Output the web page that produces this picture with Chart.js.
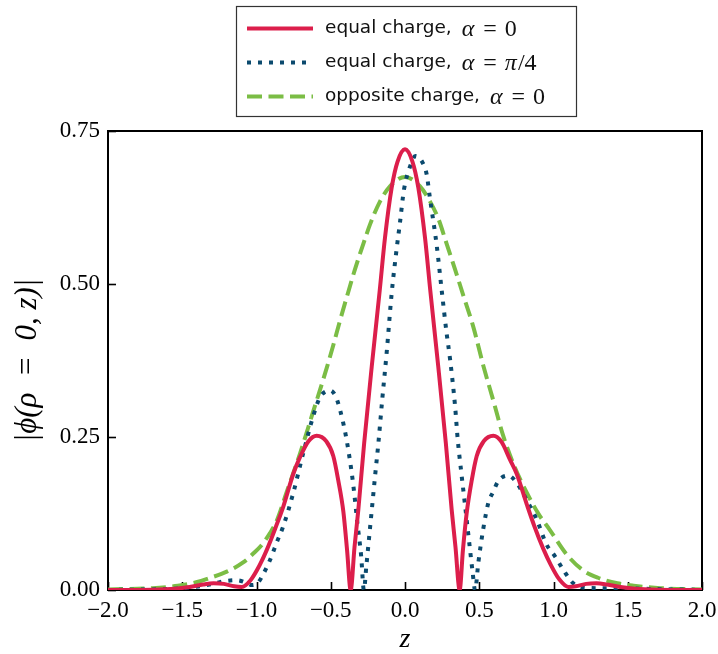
<!DOCTYPE html>
<html>
<head>
<meta charset="utf-8">
<script src="https://cdn.jsdelivr.net/npm/chart.js@4.4.1/dist/chart.umd.min.js"></script>
<style>
  html, body { margin: 0; padding: 0; background: #fff; }
  canvas { display: block; }
</style>
</head>
<body>
<canvas id="graficoPotencial" width="718" height="654"></canvas>
<script>
// valores
const zIgualAlfa0 = [-2, -1.7, -1.55, -1.45, -1.36, -1.29, -1.22, -1.15, -1.1, -1.04, -0.98, -0.93, -0.87, -0.82, -0.752, -0.707, -0.65, -0.595, -0.53, -0.483, -0.45, -0.415, -0.39, -0.366, -0.34, -0.314, -0.275, -0.224, -0.17, -0.135, -0.09, -0.05, 0,
  0.05, 0.09, 0.135, 0.17, 0.224, 0.275, 0.314, 0.34, 0.368, 0.39, 0.415, 0.45, 0.483, 0.53, 0.595, 0.65, 0.707, 0.752, 0.82, 0.87, 0.93, 0.98, 1.04, 1.1, 1.15, 1.22, 1.29, 1.36, 1.45, 1.55, 1.7, 2];
const phiIgualAlfa0 = [0, 0.0005, 0.002, 0.005, 0.009, 0.011, 0.01, 0.006, 0.005, 0.016, 0.04, 0.066, 0.103, 0.136, 0.19, 0.217, 0.243, 0.252, 0.243, 0.219, 0.18, 0.128, 0.065, 0, 0.07, 0.132, 0.24, 0.365, 0.49, 0.575, 0.657, 0.7, 0.72,
  0.7, 0.657, 0.575, 0.49, 0.365, 0.24, 0.132, 0.07, 0, 0.065, 0.125, 0.18, 0.219, 0.243, 0.252, 0.242, 0.213, 0.19, 0.14, 0.105, 0.068, 0.042, 0.017, 0.005, 0.006, 0.01, 0.011, 0.009, 0.005, 0.002, 0.0005, 0];

const zIgualAlfaPi4 = [-2, -1.7, -1.55, -1.45, -1.36, -1.28, -1.2, -1.13, -1.07, -1.03, -0.99, -0.95, -0.909, -0.86, -0.82, -0.752, -0.685, -0.617, -0.572, -0.505, -0.47, -0.438, -0.393, -0.35, -0.32, -0.295, -0.277, -0.26, -0.24, -0.22, -0.2, -0.18, -0.153, -0.123, -0.09, -0.056, -0.034, -0.007, 0.034, 0.07, 0.119, 0.146, 0.168, 0.213, 0.247, 0.28, 0.303, 0.337, 0.355, 0.38, 0.405, 0.43, 0.455, 0.472, 0.494, 0.527, 0.561, 0.595, 0.628, 0.696, 0.752, 0.83, 0.887, 0.954, 1.01, 1.066, 1.133, 1.2, 1.3, 1.45, 1.6, 1.8, 2];
const phiIgualAlfaPi4 = [0, 0.001, 0.002, 0.004, 0.007, 0.011, 0.015, 0.016, 0.012, 0.008, 0.012, 0.028, 0.049, 0.08, 0.104, 0.159, 0.224, 0.285, 0.315, 0.326, 0.318, 0.295, 0.245, 0.175, 0.108, 0.055, 0, 0.04, 0.09, 0.14, 0.19, 0.238, 0.312, 0.389, 0.484, 0.558, 0.6, 0.654, 0.692, 0.709, 0.698, 0.679, 0.64, 0.564, 0.49, 0.42, 0.378, 0.301, 0.246, 0.19, 0.137, 0.083, 0.03, 0, 0.045, 0.1, 0.142, 0.161, 0.178, 0.187, 0.175, 0.142, 0.115, 0.074, 0.055, 0.033, 0.011, 0.004, 0.003, 0.003, 0.002, 0.001, 0];

const zOpuestaAlfa0 = [-2, -1.7, -1.53, -1.4, -1.31, -1.2, -1.09, -1.02, -0.96, -0.909, -0.864, -0.797, -0.707, -0.628, -0.527, -0.483, -0.438, -0.382, -0.337, -0.28, -0.236, -0.168, -0.1, 0, 0.1, 0.168, 0.224, 0.28, 0.337, 0.393, 0.46, 0.527, 0.6, 0.66, 0.74, 0.82, 0.9, 0.976, 1.089, 1.2, 1.3, 1.43, 1.54, 1.72, 2];
const phiOpuestaAlfa0 = [0.001, 0.003, 0.007, 0.013, 0.02, 0.03, 0.045, 0.06, 0.075, 0.093, 0.113, 0.16, 0.223, 0.284, 0.363, 0.4, 0.44, 0.487, 0.524, 0.566, 0.597, 0.635, 0.66, 0.675, 0.66, 0.635, 0.607, 0.566, 0.524, 0.481, 0.43, 0.367, 0.305, 0.253, 0.2, 0.159, 0.124, 0.098, 0.058, 0.032, 0.02, 0.011, 0.007, 0.003, 0.001];

const etiquetas = ['equal charge, α = 0', 'equal charge, α = π/4', 'opposite charge, α = 0'];
const ticksZ = [-2, -1.5, -1, -0.5, 0, 0.5, 1, 1.5, 2];
const ticksPhi = [0, 0.25, 0.5, 0.75];

function puntos(zs, vs) {
  return zs.map((z, i) => ({ x: z, y: vs[i] }));
}
function menos(s) { return s.replace('-', '\u2212'); }

const fuenteEjes = '"Liberation Serif", "DejaVu Serif", serif';

// marco del grafico y marcas hacia dentro
const marco = {
  id: 'marco',
  beforeDatasetsDraw(chart) {
    const { ctx, chartArea: a, scales } = chart;
    ctx.save();
    ctx.strokeStyle = '#000';
    ctx.lineWidth = 1.6;
    scales.x.ticks.forEach(t => {
      const px = Math.round(scales.x.getPixelForValue(t.value)) + 0.5;
      ctx.beginPath(); ctx.moveTo(px, a.bottom); ctx.lineTo(px, a.bottom - 8); ctx.stroke();
    });
    scales.y.ticks.forEach(t => {
      const py = Math.round(scales.y.getPixelForValue(t.value)) + 0.5;
      ctx.beginPath(); ctx.moveTo(a.left, py); ctx.lineTo(a.left + 8, py); ctx.stroke();
    });
    ctx.lineWidth = 2;
    ctx.strokeRect(a.left, a.top, a.right - a.left, a.bottom - a.top);
    ctx.restore();
  }
};

// leyenda con caja, como en la figura
const leyenda = {
  id: 'leyenda',
  afterDraw(chart) {
    const c = chart.ctx;
    c.save();
    c.fillStyle = '#fff';
    c.fillRect(236, 6, 340, 110);
    c.strokeStyle = '#333';
    c.lineWidth = 1.2;
    c.strokeRect(236.5, 6.5, 340, 110);
    chart.data.datasets.forEach((ds, i) => {
      const y = 28.5 + i * 34;
      c.beginPath();
      c.setLineDash(ds.borderDash || []);
      c.strokeStyle = ds.borderColor;
      c.lineWidth = ds.borderWidth;
      c.moveTo(247, y); c.lineTo(313, y);
      c.stroke();
      c.setLineDash([]);
      const partes = ds.label.split(', ');
      const texto = partes[0] + ',';
      c.fillStyle = '#111';
      c.textBaseline = 'middle';
      c.font = '18.5px "DejaVu Sans", sans-serif';
      c.fillText(texto, 325, y);
      let x = 325 + c.measureText(texto).width + 10;
      const mat = partes[1].split(' = ');
      c.font = 'italic 24px ' + fuenteEjes;
      c.fillText(mat[0], x, y + 1);
      x += c.measureText(mat[0]).width + 9;
      c.font = '24px ' + fuenteEjes;
      c.fillText('=', x, y + 1);
      x += c.measureText('=').width + 8;
      if (mat[1].indexOf('π') === 0) {
        c.font = 'italic 24px ' + fuenteEjes;
        c.fillText('π', x, y + 1);
        x += c.measureText('π').width + 1;
        c.font = '24px ' + fuenteEjes;
        c.fillText(mat[1].slice(1), x, y + 1);
      } else {
        c.fillText(mat[1], x, y + 1);
      }
    });
    c.restore();
  }
};

const grafico = new Chart(document.getElementById('graficoPotencial'), {
  type: 'line',
  data: {
    datasets: [{
      label: etiquetas[0],
      data: puntos(zIgualAlfa0, phiIgualAlfa0),
      borderColor: '#dc1e4b',
      borderWidth: 4
    }, {
      label: etiquetas[1],
      data: puntos(zIgualAlfaPi4, phiIgualAlfaPi4),
      borderColor: '#0b4a6e',
      borderWidth: 4,
      borderDash: [4, 7],
      borderCapStyle: 'butt'
    }, {
      label: etiquetas[2],
      data: puntos(zOpuestaAlfa0, phiOpuestaAlfa0),
      borderColor: '#7bbd45',
      borderWidth: 4,
      borderDash: [15, 6.5],
      borderCapStyle: 'butt'
    }]
  },
  options: {
    responsive: false,
    animation: false,
    devicePixelRatio: 1,
    layout: { padding: { top: 131, right: 16, left: 0, bottom: 0 } },
    elements: {
      point: { radius: 0 },
      line: { cubicInterpolationMode: 'monotone', fill: false }
    },
    plugins: {
      legend: { display: false },
      tooltip: { enabled: false }
    },
    scales: {
      x: {
        type: 'linear',
        min: -2, max: 2,
        afterFit: s => { s.height = 64; s.paddingLeft = 0; s.paddingRight = 0; },
        afterBuildTicks: s => { s.ticks = ticksZ.map(v => ({ value: v })); },
        grid: { display: false, drawTicks: false },
        border: { display: false },
        ticks: {
          padding: 7,
          color: '#000',
          font: { family: fuenteEjes, size: 23 },
          callback: v => menos(v.toFixed(1))
        },
        title: {
          display: true,
          text: 'z',
          color: '#000',
          padding: { top: 0, bottom: -2 },
          font: { family: fuenteEjes, size: 28, style: 'italic' }
        }
      },
      y: {
        type: 'linear',
        min: 0, max: 0.75,
        afterFit: s => { s.width = 108; s.paddingTop = 0; s.paddingBottom = 0; },
        afterBuildTicks: s => { s.ticks = ticksPhi.map(v => ({ value: v })); },
        grid: { display: false, drawTicks: false },
        border: { display: false },
        ticks: {
          padding: 8,
          color: '#000',
          font: { family: fuenteEjes, size: 23 },
          callback: v => v.toFixed(2)
        },
        title: {
          display: true,
          text: '|ϕ(ρ  =  0, z)|',
          color: '#000',
          padding: { top: 9, bottom: 9 },
          font: { family: fuenteEjes, size: 31, style: 'italic' }
        }
      }
    }
  },
  plugins: [marco, leyenda]
});
</script>
</body>
</html>
